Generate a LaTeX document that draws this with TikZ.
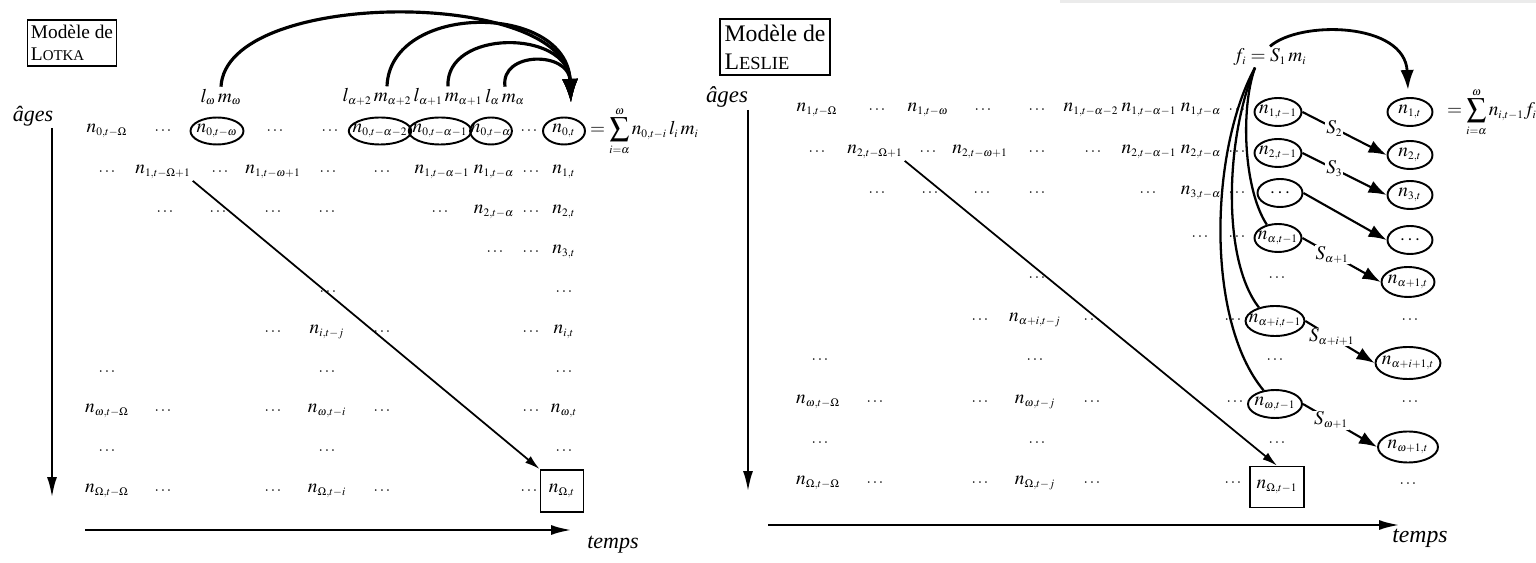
\documentclass[tikz,border=0pt]{standalone}
\usepackage{mathptmx}
\usepackage{fontspec}
\setmainfont{Liberation Serif}
\usetikzlibrary{arrows.meta,shapes.geometric}
\DeclareMathSizes{11}{11}{6.5}{4.8}

\begin{document}
\begin{tikzpicture}[x=0.02cm, y=-0.02cm,
  cell/.style={inner sep=1pt, font=\fontsize{11}{13}\selectfont},
  dotc/.style={inner sep=1pt, font=\small},
  oval/.style={draw, ellipse, line width=1.1pt, inner xsep=-3pt,
               inner ysep=1pt, minimum width=#1, minimum height=0.54cm,
               font=\fontsize{11}{13}\selectfont},
  oval/.default=0.9cm,
  sq/.style={draw, line width=1pt, minimum width=0.86cm, minimum height=0.84cm,
             font=\fontsize{11}{13}\selectfont},
  namebox/.style={draw, line width=1pt, align=left, inner xsep=2pt, inner ysep=3pt},
  axisarr/.style={-{Latex[length=0.42cm,width=0.2cm]}, line width=1.6pt},
  diagarr/.style={-{Latex[length=0.3cm,width=0.17cm]}, line width=1pt},
  reach/.style={-{Latex[length=0.48cm,width=0.32cm]}, line width=1.8pt},
  surv/.style={-{Latex[length=0.36cm,width=0.26cm]}, line width=1.2pt},
  slab/.style={pos=0.38, fill=white, inner sep=0.5pt, font=\fontsize{11}{13}\selectfont},
  fan/.style={line width=1.3pt}
]
  \useasboundingbox (0,0) rectangle (1536,563);
  \fill[black!8] (1060,0) rectangle (1536,3);

  % ---------------- Lotka ----------------
  \node[namebox, font=\fontsize{11}{12.5}\selectfont] (Ltitle) at (72,43)
    {Modèle de\\L{\fontsize{8.5}{10}\selectfont OTKA}};
  \node[font=\itshape\fontsize{12.5}{14}\selectfont] (Lages) at (33,116) {âges};
  \node[font=\itshape\fontsize{12.5}{14}\selectfont] (Ltemps) at (613,545) {temps};
  \coordinate (Ltop) at (52,128);
  \coordinate (Lbot) at (52,498);
  \coordinate (Lleft) at (85,530);
  \coordinate (Lright) at (572,530);
  \draw[axisarr] (Ltop) -- (Lbot);
  \draw[axisarr] (Lleft) -- (Lright);

  \node[cell] (Llw)  at (221,97) {$l_\omega\, m_\omega$};
  \node[cell] (Lla2) at (377,97) {$l_{\alpha+2}\, m_{\alpha+2}$};
  \node[cell] (Lla1) at (448,97) {$l_{\alpha+1}\, m_{\alpha+1}$};
  \node[cell] (Lla)  at (505,97) {$l_\alpha\, m_\alpha$};

  \node[cell] (L0Om) at (107,131) {$n_{0,t-\Omega}$};
  \node[oval=1.06cm] (L0w)  at (217,131) {$n_{0,t-\omega}$};
  \node[oval=1.08cm] (L0a2) at (380,131) {$n_{0,t-\alpha-2}$};
  \node[oval=1.08cm] (L0a1) at (440,131) {$n_{0,t-\alpha-1}$};
  \node[oval=0.8cm]  (L0a)  at (491,131) {$n_{0,t-\alpha}$};
  \node[oval=0.84cm] (L0t)  at (564,131) {$n_{0,t}$};
  \node[cell, anchor=west] (Lsum) at (588,131)
    {$\displaystyle=\sum_{i=\alpha}^{\omega} n_{0,t-i}\, l_i\, m_i$};

  \node[cell] (L1Om) at (163,172) {$n_{1,t-\Omega+1}$};
  \node[cell] (L1w)  at (273,172) {$n_{1,t-\omega+1}$};
  \node[cell] (L1a1) at (442,172) {$n_{1,t-\alpha-1}$};
  \node[cell] (L1a)  at (494,172) {$n_{1,t-\alpha}$};
  \node[cell] (L1t)  at (564,172) {$n_{1,t}$};
  \node[cell] (L2a)  at (494,212) {$n_{2,t-\alpha}$};
  \node[cell] (L2t)  at (564,212) {$n_{2,t}$};
  \node[cell] (L3t)  at (564,252) {$n_{3,t}$};
  \node[cell] (Lij)  at (327,332) {$n_{i,t-j}$};
  \node[cell] (Lit)  at (564,332) {$n_{i,t}$};
  \node[cell] (LwOm) at (107,411) {$n_{\omega,t-\Omega}$};
  \node[cell] (Lwi)  at (327,411) {$n_{\omega,t-i}$};
  \node[cell] (Lwt)  at (564,411) {$n_{\omega,t}$};
  \node[cell] (LOOm) at (107,491) {$n_{\Omega,t-\Omega}$};
  \node[cell] (LOi)  at (327,491) {$n_{\Omega,t-i}$};
  \node[sq]   (LOt)  at (562,491) {$n_{\Omega,t}$};

  \foreach \x/\y [count=\k] in {163/131, 275/131, 330/131, 529/131,
      107/172, 220/172, 328/172, 382/172, 531/172,
      165/212, 218/212, 273/212, 327/212, 440/212, 531/212,
      495/252, 531/252, 328/292, 564/292,
      273/332, 382/332, 531/332, 107/372, 327/372, 564/372,
      163/411, 273/411, 382/411, 531/411, 107/451, 327/451, 564/451,
      163/491, 273/491, 382/491, 529/491}
    \node[dotc] (Ld\k) at (\x,\y) {$\cdots$};

  \coordinate (Lhit) at (571,103);
  \draw[reach] (Llw.north) .. controls (226,-12) and (566,-12) .. (Lhit);
  \draw[reach] ([xshift=0.2cm]Lla2.north) .. controls (390,2) and (567,2) .. (Lhit);
  \draw[reach] (Lla1.north) .. controls (445,29) and (568,29) .. (Lhit);
  \draw[reach] (Lla.north) .. controls (500,51) and (569,51) .. (Lhit);
  \draw[diagarr] (L1Om.south east) -- (LOt.north west);

  % ---------------- Leslie ----------------
  \node[namebox, font=\fontsize{13.5}{16}\selectfont, inner xsep=2.5pt] (Rtitle) at (775,47)
    {Modèle de\\L{\fontsize{10.5}{12}\selectfont ESLIE}};
  \node[font=\itshape\fontsize{13}{15}\selectfont] (Rages) at (727,97) {âges};
  \node[font=\itshape\fontsize{13.5}{15}\selectfont] (Rtemps) at (1420,538) {temps};
  \coordinate (Rtop) at (748,110);
  \coordinate (Rbot) at (748,492);
  \coordinate (Rleft) at (768,525);
  \coordinate (Rright) at (1400,525);
  \draw[axisarr] (Rtop) -- (Rbot);
  \draw[axisarr] (Rleft) -- (Rright);

  \node[cell] (Rfi) at (1270,57) {$f_i = S_1\, m_i$};

  \node[cell] (R1Om) at (817,110)  {$n_{1,t-\Omega}$};
  \node[cell] (R1w)  at (928,110)  {$n_{1,t-\omega}$};
  \node[cell] (R1a2) at (1091,110) {$n_{1,t-\alpha-2}$};
  \node[cell] (R1a1) at (1149,110) {$n_{1,t-\alpha-1}$};
  \node[cell] (R1a)  at (1201,110) {$n_{1,t-\alpha}$};
  \node[oval=0.94cm, minimum height=0.56cm] (R1t1) at (1278,112) {$n_{1,t-1}$};
  \node[oval=0.9cm, minimum height=0.56cm]  (R1t)  at (1410,112) {$n_{1,t}$};
  \node[cell, anchor=west] (Rsum) at (1445,112)
    {$\displaystyle=\sum_{i=\alpha}^{\omega} n_{i,t-1} f_i$};

  \node[cell] (R2Om) at (875,152)  {$n_{2,t-\Omega+1}$};
  \node[cell] (R2w)  at (980,152)  {$n_{2,t-\omega+1}$};
  \node[cell] (R2a1) at (1149,152) {$n_{2,t-\alpha-1}$};
  \node[cell] (R2a)  at (1201,152) {$n_{2,t-\alpha}$};
  \node[oval=0.94cm, minimum height=0.56cm] (R2t1) at (1278,153) {$n_{2,t-1}$};
  \node[oval=0.9cm, minimum height=0.56cm]  (R2t)  at (1410,155) {$n_{2,t}$};

  \node[cell] (R3a)  at (1201,193) {$n_{3,t-\alpha}$};
  \node[oval=0.9cm, minimum height=0.56cm]  (Rdl)  at (1280,193) {$\cdots$};
  \node[oval=0.9cm, minimum height=0.56cm]  (R3t)  at (1410,195) {$n_{3,t}$};

  \node[oval=0.94cm, minimum height=0.56cm] (Rat1)  at (1278,238) {$n_{\alpha,t-1}$};
  \node[oval=0.9cm, minimum height=0.56cm]  (Rdr)   at (1410,240) {$\cdots$};
  \node[oval=1.06cm, minimum height=0.6cm]  (Ra1t)  at (1408,282) {$n_{\alpha+1,t}$};
  \node[cell] (Raij) at (1035,320) {$n_{\alpha+i,t-j}$};
  \node[oval=1.12cm, minimum height=0.6cm]  (Rait1) at (1275,321) {$n_{\alpha+i,t-1}$};
  \node[oval=1.3cm, minimum height=0.64cm]  (Rai1t) at (1408,363) {$n_{\alpha+i+1,t}$};

  \node[cell] (RwOm) at (818,402)  {$n_{\omega,t-\Omega}$};
  \node[cell] (Rwj)  at (1035,402) {$n_{\omega,t-j}$};
  \node[oval=1.08cm, minimum height=0.56cm] (Rwt1) at (1275,404) {$n_{\omega,t-1}$};
  \node[oval=1.2cm, minimum height=0.62cm]  (Rw1t) at (1408,447) {$n_{\omega+1,t}$};

  \node[cell] (ROOm) at (818,483)  {$n_{\Omega,t-\Omega}$};
  \node[cell] (ROj)  at (1035,483) {$n_{\Omega,t-j}$};
  \node[sq, minimum width=1.08cm, minimum height=0.82cm] (ROt1) at (1277,487) {$n_{\Omega,t-1}$};

  \foreach \x/\y [count=\k] in {877/110, 983/110, 1037/110, 1237/110,
      817/152, 928/152, 1037/152, 1093/152, 1237/152,
      877/193, 930/193, 982/193, 1037/193, 1148/193, 1237/193,
      1200/237, 1237/237, 1037/278, 1277/278,
      980/320, 1092/320, 1233/320, 1410/320,
      820/360, 1035/360, 1275/360,
      875/402, 980/402, 1092/402, 1235/402, 1410/402,
      820/443, 1037/443, 1277/443,
      875/483, 980/483, 1092/483, 1233/483, 1408/484}
    \node[dotc] (Rd\k) at (\x,\y) {$\cdots$};

  \coordinate (Rhit) at (1408,90);
  \draw[line width=1.6pt, -{Latex[length=0.4cm,width=0.27cm]}]
    (Rfi.north) .. controls (1300,20) and (1405,22) .. (Rhit);
  \coordinate (Rfs) at ([xshift=-0.3cm]Rfi.south);
  \draw[fan] (Rfs) .. controls (1240,110) and (1244,190) .. (Rat1.130);
  \draw[fan] (Rfs) .. controls (1225,140) and (1222,260) .. (Rait1.140);
  \draw[fan] (Rfs) .. controls (1210,150) and (1205,320) .. (Rwt1.130);

  \draw[surv] (R1t1.east) -- node[slab] {$S_2$} (R2t.west);
  \draw[surv] (R2t1.east) -- node[slab] {$S_3$} (R3t.west);
  \draw[surv] (Rdl.east) -- (Rdr.west);
  \draw[surv] (Rat1.east) -- node[slab] {$S_{\alpha+1}$} (Ra1t.west);
  \draw[surv] (Rait1.east) -- node[slab] {$S_{\alpha+i+1}$} (Rai1t.west);
  \draw[surv] (Rwt1.east) -- node[slab] {$S_{\omega+1}$} (Rw1t.west);
  \draw[diagarr] (R2Om.south east) -- (ROt1.north);
\end{tikzpicture}
\end{document}
